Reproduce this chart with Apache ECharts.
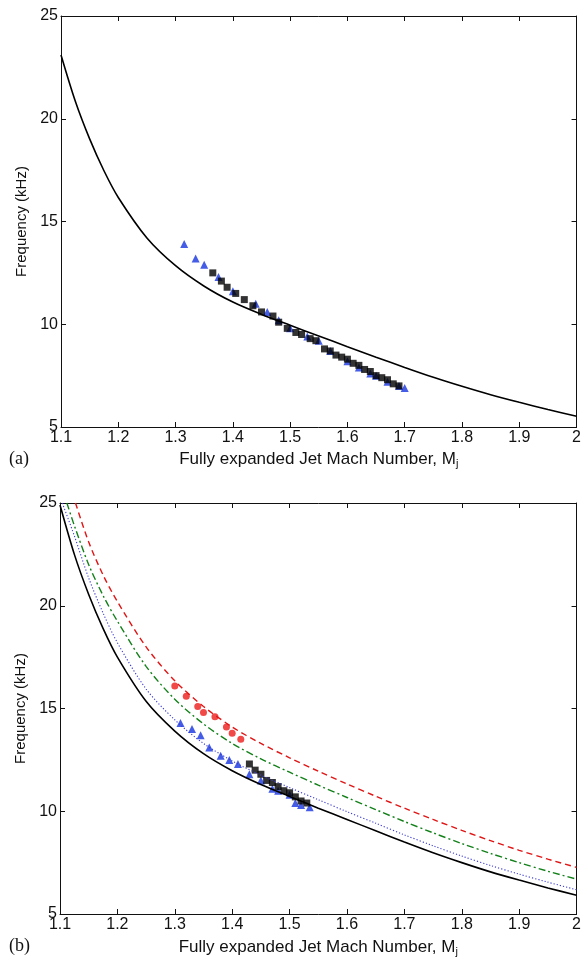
<!DOCTYPE html>
<html>
<head>
<meta charset="utf-8">
<script src="https://cdn.jsdelivr.net/npm/echarts@6/dist/echarts.min.js"></script>
<style>
  html, body { margin: 0; padding: 0; background: #fff; }
  #chart { width: 584px; height: 960px; }
</style>
</head>
<body>
<div id="chart"></div>
<script>
// Panel (a): predicted screech frequency curve and measured tones
const curveA = [
  [1.100, 23.1], [1.125, 20.85], [1.150, 19.02], [1.175, 17.47], [1.200, 16.17],
  [1.25, 14.2], [1.30, 12.85], [1.35, 11.85], [1.40, 11.08], [1.45, 10.48],
  [1.50, 9.95], [1.55, 9.43], [1.60, 8.91], [1.65, 8.4], [1.70, 7.9],
  [1.75, 7.42], [1.80, 6.98], [1.85, 6.57], [1.90, 6.2], [1.95, 5.85], [2.00, 5.52]
];
const squaresA = [
  [1.365, 12.5], [1.38, 12.1], [1.39, 11.8], [1.405, 11.5], [1.42, 11.2],
  [1.435, 10.9], [1.45, 10.6], [1.47, 10.4], [1.48, 10.1], [1.495, 9.8],
  [1.51, 9.6], [1.52, 9.5], [1.535, 9.3], [1.545, 9.2], [1.56, 8.8],
  [1.57, 8.7], [1.58, 8.5], [1.59, 8.4], [1.60, 8.3], [1.61, 8.1],
  [1.62, 8.0], [1.63, 7.8], [1.64, 7.7], [1.65, 7.5], [1.66, 7.4],
  [1.67, 7.3], [1.68, 7.1], [1.69, 7.0]
];
const trianglesA = [
  [1.315, 13.9], [1.335, 13.2], [1.35, 12.9], [1.375, 12.3], [1.40, 11.6],
  [1.44, 11.0], [1.46, 10.6], [1.48, 10.2], [1.50, 9.8], [1.53, 9.4],
  [1.55, 9.2], [1.57, 8.7], [1.60, 8.2], [1.62, 7.9], [1.64, 7.6],
  [1.65, 7.5], [1.67, 7.2], [1.69, 7.0], [1.70, 6.9]
];

// Panel (b): four model curves and three sets of measured tones
const solidB = [
  [1.100, 24.9], [1.125, 22.5], [1.150, 20.55], [1.175, 18.9], [1.200, 17.5],
  [1.25, 15.35], [1.30, 13.9], [1.35, 12.8], [1.40, 11.97], [1.45, 11.3],
  [1.50, 10.72], [1.55, 10.15], [1.60, 9.6], [1.65, 9.05], [1.70, 8.5],
  [1.75, 7.98], [1.80, 7.5], [1.85, 7.05], [1.90, 6.65], [1.95, 6.27], [2.00, 5.91]
];
const dottedB = [
  [1.104, 25.0], [1.125, 23.4], [1.150, 21.35], [1.175, 19.65], [1.200, 18.2],
  [1.25, 15.95], [1.30, 14.45], [1.35, 13.3], [1.40, 12.45], [1.45, 11.75],
  [1.50, 11.15], [1.55, 10.56], [1.60, 9.98], [1.65, 9.42], [1.70, 8.85],
  [1.75, 8.32], [1.80, 7.82], [1.85, 7.36], [1.90, 6.94], [1.95, 6.55], [2.00, 6.18]
];
const dashDotB = [
  [1.112, 25.0], [1.125, 23.9], [1.150, 22.0], [1.175, 20.5], [1.200, 19.25],
  [1.25, 17.05], [1.30, 15.45], [1.35, 14.25], [1.40, 13.3], [1.45, 12.55],
  [1.50, 11.9], [1.55, 11.27], [1.60, 10.67], [1.65, 10.08], [1.70, 9.5],
  [1.75, 8.95], [1.80, 8.43], [1.85, 7.95], [1.90, 7.5], [1.95, 7.08], [2.00, 6.7]
];
const dashedB = [
  [1.127, 25.0], [1.150, 23.1], [1.175, 21.5], [1.200, 20.2],
  [1.25, 18.0], [1.30, 16.35], [1.35, 15.1], [1.40, 14.1], [1.45, 13.3],
  [1.50, 12.6], [1.55, 11.95], [1.60, 11.33], [1.65, 10.73], [1.70, 10.15],
  [1.75, 9.6], [1.80, 9.07], [1.85, 8.57], [1.90, 8.1], [1.95, 7.67], [2.00, 7.27]
];
const circlesB = [
  [1.30, 16.1], [1.32, 15.6], [1.34, 15.1], [1.35, 14.8], [1.37, 14.6],
  [1.39, 14.1], [1.40, 13.8], [1.415, 13.5]
];
const squaresB = [
  [1.43, 12.3], [1.44, 12.0], [1.45, 11.8], [1.46, 11.5], [1.47, 11.4],
  [1.48, 11.2], [1.49, 11.0], [1.50, 10.9], [1.51, 10.7], [1.52, 10.5],
  [1.53, 10.4]
];
const trianglesB = [
  [1.31, 14.3], [1.33, 14.0], [1.345, 13.7], [1.36, 13.1], [1.38, 12.7],
  [1.395, 12.5], [1.41, 12.3], [1.43, 11.8], [1.45, 11.5], [1.47, 11.1],
  [1.48, 11.0], [1.50, 10.8], [1.51, 10.4], [1.52, 10.3], [1.535, 10.2]
];

const xRange = { min: 1.1, max: 2.0, step: 0.1 };
const yRange = { min: 5, max: 25, step: 5 };
const xTitle = 'Fully expanded Jet Mach Number, ';
const yTitle = 'Frequency (kHz)';
const panelTags = ['(a)', '(b)'];

const FONT = '"Liberation Sans", Arial, Helvetica, sans-serif';
const SERIF = '"Liberation Serif", "Times New Roman", serif';
const INK = '#111';

function xAxes(grid, gap) {
  const base = {
    type: 'value', gridIndex: grid, min: xRange.min, max: xRange.max, interval: xRange.step,
    splitLine: { show: false },
    axisLine: { show: true, onZero: false, lineStyle: { color: INK, width: 1 } },
    axisTick: { show: true, inside: true, length: 5, lineStyle: { color: INK } }
  };
  return [
    Object.assign({}, base, {
      position: 'bottom',
      name: '{t|' + xTitle + 'M}{s|j}',
      nameLocation: 'middle', nameGap: gap,
      nameTextStyle: {
        rich: {
          t: { fontFamily: FONT, fontSize: 17, color: INK },
          s: { fontFamily: FONT, fontSize: 11, color: INK, padding: [9, 0, 0, 0] }
        }
      },
      axisLabel: {
        show: true, margin: 3, color: INK, fontFamily: FONT, fontSize: 16,
        formatter: v => String(Math.round(v * 10) / 10)
      }
    }),
    Object.assign({}, base, { position: 'top', axisLabel: { show: false } })
  ];
}

function yAxes(grid) {
  const base = {
    type: 'value', gridIndex: grid, min: yRange.min, max: yRange.max, interval: yRange.step,
    splitLine: { show: false },
    axisLine: { show: true, onZero: false, lineStyle: { color: INK, width: 1 } },
    axisTick: { show: true, inside: true, length: 5, lineStyle: { color: INK } }
  };
  return [
    Object.assign({}, base, {
      position: 'left',
      name: yTitle, nameLocation: 'middle', nameGap: 29, nameRotate: 90,
      nameTextStyle: { fontFamily: FONT, fontSize: 15, color: INK },
      axisLabel: { show: true, margin: 3, color: INK, fontFamily: FONT, fontSize: 16 }
    }),
    Object.assign({}, base, { position: 'right', axisLabel: { show: false } })
  ];
}

function curve(data, xi, yi, color, type, width) {
  return {
    type: 'line', xAxisIndex: xi, yAxisIndex: yi, data: data,
    showSymbol: false, smooth: 0.3, silent: true, clip: true,
    lineStyle: { color: color, width: width, type: type }
  };
}

function marks(data, xi, yi, symbol, size, color) {
  return {
    type: 'scatter', xAxisIndex: xi, yAxisIndex: yi, data: data,
    symbol: symbol, symbolSize: size, silent: true,
    itemStyle: { color: color }
  };
}

const chart = echarts.init(document.getElementById('chart'), null, { renderer: 'canvas' });

chart.setOption({
  animation: false,
  backgroundColor: '#fff',
  grid: [
    { left: 61, top: 16, width: 519, height: 411 },
    { left: 60, top: 503, width: 520, height: 411 }
  ],
  xAxis: xAxes(0, 22).concat(xAxes(1, 23)),
  yAxis: yAxes(0).concat(yAxes(1)),
  graphic: [
    { type: 'text', left: 9, top: 450, style: { text: panelTags[0], font: '18px ' + SERIF, fill: INK } },
    { type: 'text', left: 9, top: 937, style: { text: panelTags[1], font: '18px ' + SERIF, fill: INK } }
  ],
  series: [
    curve(curveA, 0, 0, '#000', 'solid', 1.6),
    marks(trianglesA, 0, 0, 'triangle', 8, '#1533e0'),
    marks(squaresA, 0, 0, 'rect', 7, '#000'),

    curve(solidB, 2, 2, '#000', 'solid', 1.6),
    curve(dottedB, 2, 2, '#3a3ad0', [1.2, 2], 1.1),
    curve(dashDotB, 2, 2, '#13801a', [7, 3, 2, 3], 1.4),
    curve(dashedB, 2, 2, '#e01515', [6, 4], 1.4),
    marks(circlesB, 2, 2, 'circle', 7, '#ee1a1a'),
    marks(trianglesB, 2, 2, 'triangle', 8, '#1533e0'),
    marks(squaresB, 2, 2, 'rect', 7, '#000')
  ]
});
</script>
</body>
</html>
